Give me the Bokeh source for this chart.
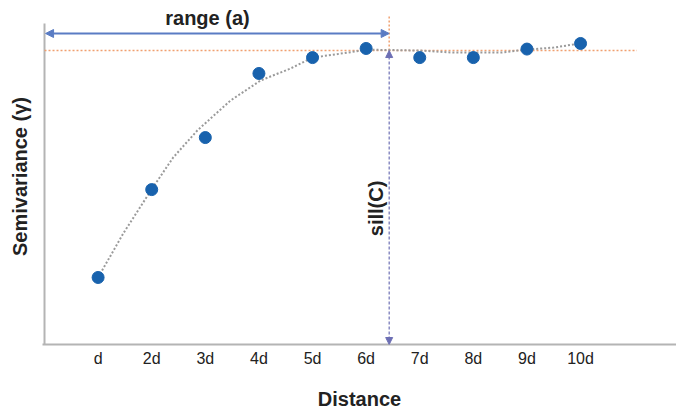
from bokeh.plotting import figure
from bokeh.models import (Range1d, FixedTicker, Label, Arrow, NormalHead, ColumnDataSource)
from bokeh.embed import file_html
from bokeh.resources import INLINE

# lag classes and experimental semivariance values (sill normalised to 1)
lags = [1, 2, 3, 4, 5, 6, 7, 8, 9, 10]
lag_labels = ["d", "2d", "3d", "4d", "5d", "6d", "7d", "8d", "9d", "10d"]
semivariance = [0.228, 0.527, 0.704, 0.922, 0.976, 1.007, 0.976, 0.976, 1.005, 1.024]

# fitted model curve, read along its path
model_h = [1.00, 1.47, 2.01, 2.40, 2.85, 3.47, 4.03, 4.59, 5.00, 5.66, 6.01,
           6.99, 7.64, 8.52, 8.99, 9.50, 9.98]
model_g = [0.228, 0.378, 0.531, 0.636, 0.728, 0.830, 0.898, 0.939, 0.976, 0.993, 1.003,
           1.000, 0.993, 0.993, 1.003, 1.010, 1.024]

sill = 1.0
range_a = 6.43
axis_top = 1.092

FONT = "Liberation Sans"
BLUE_ARROW = "#5a7cc4"
SILL_COLOR = "#6d6fb4"
ORANGE = "#f0a070"
AXIS_GRAY = "#b4b4b4"

p = figure(width=676, height=412, output_backend="svg", toolbar_location=None,
           x_range=Range1d(-0.0374, 11.79), y_range=Range1d(0, 1.143),
           min_border_left=42, min_border_right=0, min_border_top=8, min_border_bottom=68)
p.outline_line_color = None
p.background_fill_color = "white"
p.border_fill_color = "white"
p.xgrid.visible = False
p.ygrid.visible = False

# x axis with lag labels
p.xaxis.ticker = FixedTicker(ticks=lags)
p.xaxis.major_label_overrides = {k: v for k, v in zip(lags, lag_labels)}
p.xaxis.major_tick_line_color = None
p.xaxis.minor_tick_line_color = None
p.xaxis.major_tick_out = 0
p.xaxis.major_tick_in = 0
p.xaxis.major_label_standoff = 5
p.xaxis.major_label_text_font = FONT
p.xaxis.major_label_text_font_size = "16px"
p.xaxis.major_label_text_color = "#222222"
p.xaxis.axis_line_color = AXIS_GRAY
p.xaxis.axis_line_width = 2
p.xaxis.axis_label = "Distance"
p.xaxis.axis_label_text_font = FONT
p.xaxis.axis_label_text_font_style = "bold"
p.xaxis.axis_label_text_font_size = "20px"
p.xaxis.axis_label_text_color = "#222222"
p.xaxis.axis_label_standoff = 18

# y axis: label only, its line is drawn up to the axis top below
p.yaxis.ticker = FixedTicker(ticks=[])
p.yaxis.major_tick_line_color = None
p.yaxis.minor_tick_line_color = None
p.yaxis.major_tick_out = 0
p.yaxis.major_label_text_font_size = "0px"
p.yaxis.axis_line_color = None
p.yaxis.axis_label = "Semivariance (γ)"
p.yaxis.axis_label_text_font = FONT
p.yaxis.axis_label_text_font_style = "bold"
p.yaxis.axis_label_text_font_size = "20px"
p.yaxis.axis_label_text_color = "#222222"
p.yaxis.axis_label_standoff = 12
p.line([0, 0], [0, axis_top], line_color=AXIS_GRAY, line_width=2)

# sill reference line and range marker
p.line([0, 11.05], [sill, sill], line_color=ORANGE, line_dash="2 2", line_width=1.5)
p.line([range_a, range_a], [sill, 1.119], line_color=ORANGE, line_dash="2 2", line_width=1.5)

# fitted model
p.line(model_h, model_g, line_color="#9a9a9a", line_dash="2 2", line_width=2)

# experimental semivariogram points
src = ColumnDataSource(dict(x=lags, y=semivariance))
p.scatter("x", "y", source=src, size=12, fill_color="#1862ad", line_color="#1862ad")

# range arrow
p.add_layout(Arrow(start=NormalHead(size=8, fill_color=BLUE_ARROW, line_color=BLUE_ARROW),
                   end=NormalHead(size=8, fill_color=BLUE_ARROW, line_color=BLUE_ARROW),
                   x_start=0.02, y_start=1.058, x_end=range_a, y_end=1.058,
                   line_color=BLUE_ARROW, line_width=2))

# sill arrow
p.add_layout(Arrow(start=NormalHead(size=7, fill_color=SILL_COLOR, line_color=SILL_COLOR),
                   end=NormalHead(size=7, fill_color=SILL_COLOR, line_color=SILL_COLOR),
                   x_start=range_a, y_start=0.0, x_end=range_a, y_end=sill,
                   line_color=SILL_COLOR, line_dash="3 2", line_width=1.2))

# annotation texts
p.add_layout(Label(x=3.04, y=1.112, text="range (a)", text_align="center", text_baseline="middle",
                   text_font=FONT, text_font_style="bold", text_font_size="20px", text_color="#222222"))
p.add_layout(Label(x=6.18, y=0.463, text="sill(C)", angle=1.5708, text_align="center",
                   text_baseline="middle", text_font=FONT, text_font_style="bold",
                   text_font_size="20px", text_color="#222222"))

open("out.html", "w").write(file_html(p, INLINE))
